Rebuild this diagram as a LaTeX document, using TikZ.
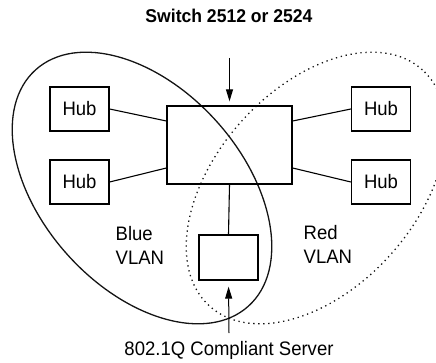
\documentclass[tikz,border=0pt]{standalone}
\usepackage{fontspec}
\setmainfont{Liberation Sans}[FakeStretch=0.95]
\usetikzlibrary{arrows.meta}
\definecolor{vlanline}{RGB}{20,20,20}
\tikzset{
  hubbox/.style={draw, minimum width=59pt, minimum height=44pt, inner sep=0pt},
  vlanlabel/.style={align=left, anchor=west, inner sep=0pt},
  feed/.style={-{Triangle[length=12pt,width=7pt]}, line width=1pt}
}
\begin{document}
\begin{tikzpicture}[x=1pt, y=1pt, line width=1.3pt, font=\fontsize{19.5}{24}\selectfont]
  \useasboundingbox (0,0) rectangle (436,362);
  \clip (0,0) rectangle (436,362);
  % VLAN outlines
  \draw[vlanline] (142,174) ellipse [x radius=159, y radius=100, rotate=-48];
  \draw[vlanline, line width=1.3pt, dash pattern=on 1.3pt off 3.7pt]
    (316,174) ellipse [x radius=159, y radius=100, rotate=48];
  % switch, hubs and server
  \node (title) at (229,346) {\fontsize{18.5}{22}\selectfont\bfseries Switch 2512 or 2524};
  \node[draw, minimum width=125pt, minimum height=78pt] (switch) at (229.5,217) {};
  \node[hubbox] (hubLT) at (79.5,253) {Hub};
  \node[hubbox] (hubLB) at (79.5,180) {Hub};
  \node[hubbox] (hubRT) at (381,253) {Hub};
  \node[hubbox] (hubRB) at (381,180) {Hub};
  \node[hubbox, minimum height=45pt] (server) at (228.5,104.5) {};
  \draw[line width=1.1pt] (hubLT.east) -- ([yshift=24pt]switch.west);
  \draw[line width=1.1pt] (hubLB.east) -- ([yshift=-23pt]switch.west);
  \draw[line width=1.1pt] (hubRT.west) -- ([yshift=24pt]switch.east);
  \draw[line width=1.1pt] (hubRB.west) -- ([yshift=-23pt]switch.east);
  \draw[line width=1.1pt] (switch.south) -- (server.north);
  % feeds
  \coordinate (topfeed) at (229.5,304);
  \coordinate (botfeed) at (229,29);
  \draw[feed, shorten >=4pt] (topfeed) -- (switch.north);
  \draw[feed, shorten >=6pt] (botfeed) -- (server.south);
  % labels
  \node[vlanlabel] (blue) at (115,117) {Blue\\VLAN};
  \node[vlanlabel] (red) at (303,118) {Red\\VLAN};
  \node (srvlabel) at (229,12) {802.1Q Compliant Server};
\end{tikzpicture}
\end{document}
